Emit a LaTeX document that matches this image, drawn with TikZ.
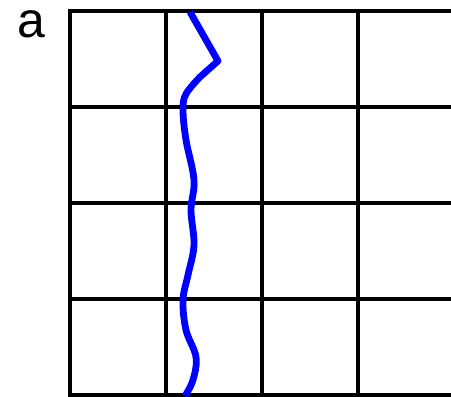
\documentclass[tikz,border=0pt]{standalone}
\usepackage{fontspec}
\setmainfont{Liberation Sans}
\begin{document}
\begin{tikzpicture}[x=1pt,y=-1pt,
  gridline/.style={line width=3.6pt,black},
  crack/.style={line width=6.8pt,blue,line join=round,line cap=butt}]
\useasboundingbox (0,0) rectangle (451,397);
\node[anchor=base,font=\fontsize{50}{50}\selectfont,inner sep=0pt] (lbl) at (31.5,37) {a};
\begin{scope}
\clip (0,0) rectangle (451,397);
\foreach \x in {70,166,262,358}{\draw[gridline] (\x,9.2) -- (\x,396.8);}
\foreach \y in {11,107,203,299,395}{\draw[gridline] (68.2,\y) -- (460,\y);}
\draw[crack] (190,12) -- (218,61) -- plot[smooth,tension=0.6] coordinates {(200,77) (186,94) (183,110) (186,140) (194,180) (191,210) (194,245) (188,275) (183,300) (186,330) (196,357) (193,380) (185,396)};
\end{scope}
\end{tikzpicture}
\end{document}
